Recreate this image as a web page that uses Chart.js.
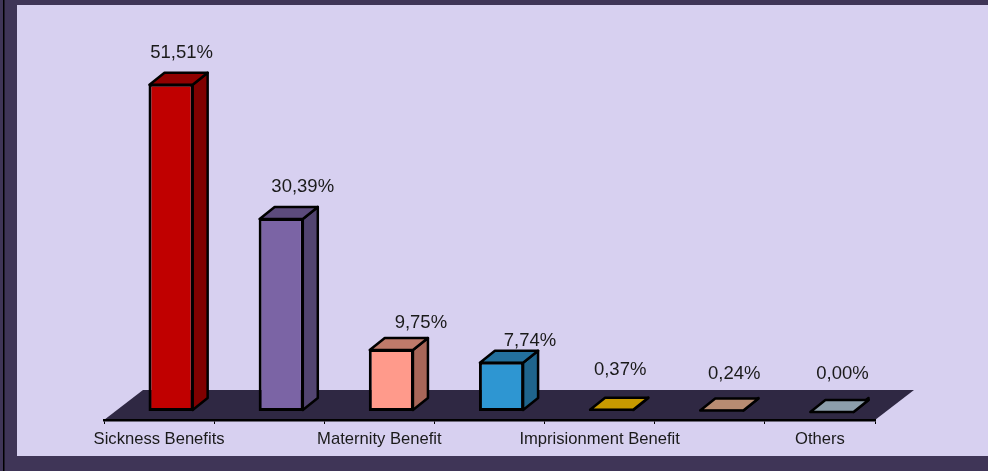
<!DOCTYPE html>
<html>
<head>
<meta charset="utf-8">
<style>
  html, body { margin: 0; padding: 0; background: #3f3557; overflow: hidden; }
  #wrap { position: relative; width: 988px; height: 471px; }
</style>
</head>
<body>
<div id="wrap"><canvas id="chart"></canvas></div>
<script src="https://cdn.jsdelivr.net/npm/chart.js@4"></script>
<script>
// data
const categories = ["Sickness Benefits", "", "Maternity Benefit", "", "Imprisionment Benefit", "", "Others"];
const shares = [51.51, 30.39, 9.75, 7.74, 0.37, 0.24, 0.00];
const frontColors = ["#c00000", "#7b64a5", "#ff9a8b", "#2e96d2", "#c89a00", "#b88c72", "#8c9eab"];
const topColors = ["#900000", "#5c4b7c", "#bf7a6a", "#23709d", "#c89a00", "#b88c72", "#8c9eab"];
const sideColors = ["#800000", "#524470", "#a86658", "#1f648c", "#644d00", "#5c4639", "#465055"];
// label shift from the bar front, hand moved in the original
const labelShift = [[10.5, -31], [21.5, -31], [29.5, -26], [28.5, -20.5], [8.5, -39], [12.5, -35.5], [10.5, -37.5]];

const FONT = "Liberation Sans, Arial, sans-serif";
const DX = 15, DY = -12;         // bar depth
const BAR_X = 12, BAR_Y = -9;    // bars stand inside the floor
const FLOOR_DX = 39, FLOOR_DY = -30;

function poly(ctx, pts, fill) {
    ctx.beginPath();
    pts.forEach((p, i) => i ? ctx.lineTo(p[0], p[1]) : ctx.moveTo(p[0], p[1]));
    ctx.closePath();
    ctx.fillStyle = fill;
    ctx.fill();
    ctx.stroke();
}

// ======================
// PANEL + FLOOR
// ======================
const backdrop = {
    id: "backdrop",
    beforeDraw(chart) {
        const ctx = chart.ctx;
        const a = chart.chartArea;
        ctx.save();
        ctx.fillStyle = "#d7d0f0";
        ctx.fillRect(17, 5, chart.width - 17, 451);
        ctx.fillStyle = "#000";
        ctx.fillRect(3, 0, 1.5, chart.height);
        ctx.fillStyle = "#2f2843";
        ctx.beginPath();
        ctx.moveTo(a.left, a.bottom);
        ctx.lineTo(a.left + FLOOR_DX, a.bottom + FLOOR_DY);
        ctx.lineTo(a.right + FLOOR_DX, a.bottom + FLOOR_DY);
        ctx.lineTo(a.right, a.bottom);
        ctx.closePath();
        ctx.fill();
        ctx.restore();
    }
};

// ======================
// 3D FACES + VALUE LABELS
// ======================
const bars3d = {
    id: "bars3d",
    beforeDatasetsDraw(chart) {
        const ctx = chart.ctx;
        ctx.save();
        ctx.translate(BAR_X, BAR_Y);
        ctx.lineWidth = 2.5;
        ctx.lineJoin = "round";
        ctx.strokeStyle = "#000";
        chart.getDatasetMeta(0).data.forEach((bar, i) => {
            // chart.js strokes the front border inside the bar rect
            const l = bar.x - bar.width / 2 + 1;
            const r = bar.x + bar.width / 2 - 1;
            const top = bar.y + 1;
            const bot = bar.base - 1;
            poly(ctx, [[r, top], [r + DX, top + DY], [r + DX, bot + DY], [r, bot]], sideColors[i]);
            poly(ctx, [[l, top], [l + DX, top + DY], [r + DX, top + DY], [r, top]], topColors[i]);
        });
    },
    afterDatasetsDraw(chart) {
        const ctx = chart.ctx;
        ctx.restore();
        ctx.save();
        ctx.font = "18.5px " + FONT;
        ctx.fillStyle = "#1a1a1a";
        ctx.textAlign = "center";
        ctx.textBaseline = "middle";
        chart.getDatasetMeta(0).data.forEach((bar, i) => {
            const txt = shares[i].toFixed(2).replace(".", ",") + "%";
            ctx.fillText(txt, bar.x + BAR_X + labelShift[i][0], bar.y + BAR_Y + labelShift[i][1]);
        });
        ctx.restore();
    }
};

new Chart(document.getElementById("chart"), {
    type: "bar",
    data: {
        labels: categories,
        datasets: [{
            data: shares,
            backgroundColor: frontColors,
            borderColor: "#000",
            borderWidth: 3,
            borderSkipped: false,
            categoryPercentage: 1,
            barPercentage: 0.41
        }]
    },
    options: {
        responsive: true,
        maintainAspectRatio: false,
        animation: false,
        layout: { padding: { left: 104, right: 113, top: 42, bottom: 0 } },
        plugins: { legend: { display: false }, tooltip: { enabled: false } },
        scales: {
            y: { display: false, min: 0, max: 59.5 },
            x: {
                afterFit(scale) { scale.height = 51; },
                border: { color: "#000", width: 2.5 },
                grid: { drawOnChartArea: false, color: "#000", tickLength: 4 },
                ticks: {
                    autoSkip: false,
                    maxRotation: 0,
                    color: "#1a1a1a",
                    padding: 5,
                    font: { family: FONT, size: 16.6 }
                }
            }
        }
    },
    plugins: [backdrop, bars3d]
});
</script>
</body>
</html>
